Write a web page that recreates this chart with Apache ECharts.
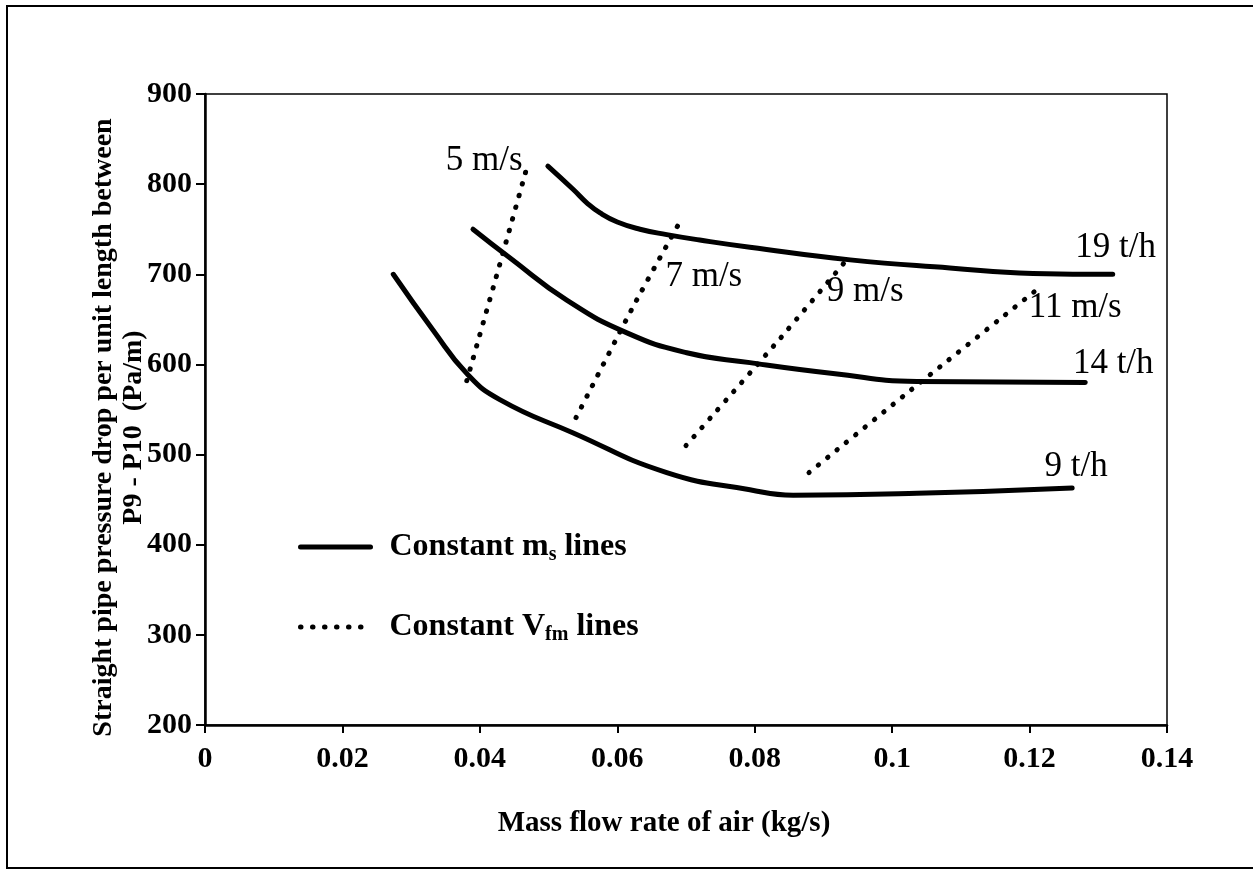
<!DOCTYPE html>
<html>
<head>
<meta charset="utf-8">
<script src="https://cdn.jsdelivr.net/npm/echarts@6/dist/echarts.min.js"></script>
<style>
  html, body { margin: 0; padding: 0; background: #fff; }
  #chart { width: 1253px; height: 869px; }
</style>
</head>
<body>
<div id="chart"></div>
<script>
// Axis ranges
const xRange = { min: 0, max: 0.14, interval: 0.02 };
const yRange = { min: 200, max: 900, interval: 100 };

// Constant solids mass flow lines: [air mass flow (kg/s), pressure drop (Pa/m)]
const ms9  = [[0.0274,700],[0.0332,638],[0.0381,590],[0.0429,561],[0.0536,524],[0.0672,480],[0.0793,461],[0.0856,455],[0.1036,457],[0.1262,463]];
const ms14 = [[0.0390,750],[0.0444,718],[0.0527,671],[0.0614,635],[0.0701,613],[0.0793,602],[0.0914,590],[0.1036,581],[0.1281,580]];
const ms19 = [[0.0499,820],[0.0536,794],[0.0556,779],[0.0575,768],[0.0600,758],[0.0633,750],[0.0672,744],[0.0720,738],[0.0793,730],[0.0939,716],[0.1084,707],[0.1205,701],[0.1321,700]];
const msNames = ['9 t/h', '14 t/h', '19 t/h'];

// Constant air velocity lines
const v5  = [[0.0381,582],[0.0436,730],[0.0469,820]];
const v7  = [[0.0540,541],[0.0623,664],[0.0691,758]];
const v9  = [[0.0700,510],[0.0835,627],[0.0936,718]];
const v11 = [[0.0879,480],[0.1028,572],[0.1214,685]];
const vNames = ['5 m/s', '7 m/s', '9 m/s', '11 m/s'];

const legendNames = ['Constant ms lines', 'Constant Vfm lines'];

const serif = 'Liberation Serif, Times New Roman, serif';
const solidStyle = { color: '#000', width: 5, cap: 'round', join: 'round' };
const dotStyle = { color: '#000', width: 5, type: [0.5, 11.5], cap: 'round' };

// Curve with its name written next to its last point
function curve(seriesName, pts, text, dotted, offset) {
  return {
    type: 'line',
    name: seriesName,
    smooth: dotted ? 0.2 : 0.5,
    symbol: 'circle',
    symbolSize: 0,
    showSymbol: true,
    silent: true,
    clip: false,
    lineStyle: dotted ? dotStyle : solidStyle,
    itemStyle: { color: '#000' },
    label: { show: false },
    data: pts.map((p, i) => i === pts.length - 1 ? {
      value: p,
      label: {
        show: true,
        formatter: text,
        position: 'right',
        distance: 0,
        align: 'center',
        verticalAlign: 'middle',
        offset: offset,
        fontFamily: serif,
        fontSize: 35,
        fontWeight: 'normal',
        color: '#000'
      }
    } : p)
  };
}

const chart = echarts.init(document.getElementById('chart'), null, { renderer: 'canvas' });

chart.setOption({
  animation: false,
  backgroundColor: '#fff',
  grid: {
    left: 205, right: 86, top: 94, bottom: 144,
    show: true, borderColor: '#000', borderWidth: 1.5, backgroundColor: 'transparent'
  },
  graphic: [{
    type: 'polyline',
    shape: { points: [[1253, 6], [7, 6], [7, 868], [1253, 868]] },
    style: { stroke: '#000', lineWidth: 2, fill: null },
    silent: true
  }],
  legend: {
    orient: 'vertical',
    left: 298,
    top: 531,
    padding: 0,
    itemWidth: 70,
    itemHeight: 36,
    itemGap: 46,
    selectedMode: false,
    itemStyle: { opacity: 0, borderWidth: 0 },
    data: [
      { name: legendNames[0], lineStyle: solidStyle },
      { name: legendNames[1], lineStyle: dotStyle }
    ],
    formatter: function (name) {
      return name === legendNames[0]
        ? '{b|Constant m}{s|s}{b| lines}'
        : '{b|Constant V}{s|fm}{b| lines}';
    },
    textStyle: {
      padding: [0, 0, 0, 14],
      rich: {
        b: { fontFamily: serif, fontWeight: 'bold', fontSize: 32, color: '#000', lineHeight: 36 },
        s: { fontFamily: serif, fontWeight: 'bold', fontSize: 20, color: '#000', lineHeight: 26, verticalAlign: 'bottom' }
      }
    }
  },
  xAxis: {
    type: 'value',
    min: xRange.min, max: xRange.max, interval: xRange.interval,
    name: 'Mass flow rate of air (kg/s)',
    nameLocation: 'middle',
    nameGap: 84,
    nameMoveOverlap: false,
    nameTextStyle: { fontFamily: serif, fontWeight: 'bold', fontSize: 29, color: '#000', padding: [0, 44, 0, 0] },
    splitLine: { show: false },
    axisLine: { show: true, onZero: false, lineStyle: { color: '#000', width: 2.5 } },
    axisTick: { show: true, inside: false, length: 8, lineStyle: { color: '#000', width: 2 } },
    axisLabel: {
      margin: 19, fontFamily: serif, fontWeight: 'bold', fontSize: 30, color: '#000',
      formatter: v => String(+v.toFixed(2))
    }
  },
  yAxis: {
    type: 'value',
    min: yRange.min, max: yRange.max, interval: yRange.interval,
    name: 'Straight pipe pressure drop per unit length between\nP9 - P10  (Pa/m)',
    nameLocation: 'middle',
    nameGap: 56,
    nameMoveOverlap: false,
    nameTextStyle: { fontFamily: serif, fontWeight: 'bold', fontSize: 28, lineHeight: 30, color: '#000', padding: [0, 36, 0, 0] },
    splitLine: { show: false },
    axisLine: { show: true, onZero: false, lineStyle: { color: '#000', width: 2.5 } },
    axisTick: { show: true, inside: false, length: 9, lineStyle: { color: '#000', width: 2 } },
    axisLabel: { margin: 13, fontFamily: serif, fontWeight: 'bold', fontSize: 30, color: '#000' }
  },
  series: [
    curve(legendNames[0], ms9,  msNames[0], false, [4, -21]),
    curve(legendNames[0], ms14, msNames[1], false, [28, -19]),
    curve(legendNames[0], ms19, msNames[2], false, [3, -26]),
    curve(legendNames[1], v5,  vNames[0], true, [-43, -5]),
    curve(legendNames[1], v7,  vNames[1], true, [24, 55]),
    curve(legendNames[1], v9,  vNames[2], true, [17, 34]),
    curve(legendNames[1], v11, vNames[3], true, [36, 20])
  ]
});
</script>
</body>
</html>
